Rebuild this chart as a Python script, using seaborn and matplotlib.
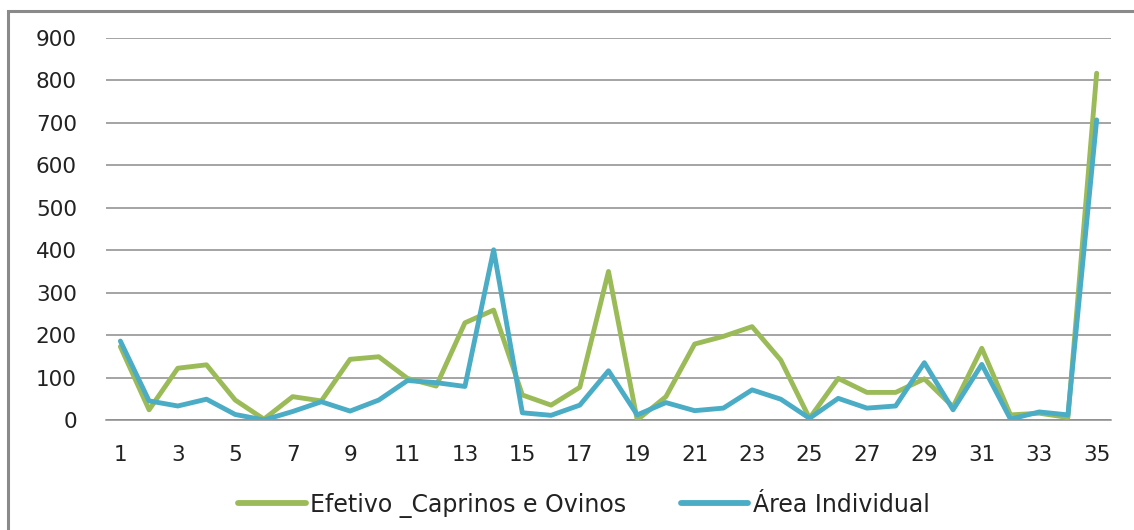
import numpy as np
import pandas as pd
import matplotlib
matplotlib.use("Agg")
import matplotlib.pyplot as plt
import seaborn as sns
from matplotlib.patches import Rectangle

# ---- data ----
x_vals = list(range(1, 36))
efetivo = [173, 24, 122, 130, 47, 2, 55, 45, 143, 149,
           98, 80, 229, 259, 59, 35, 77, 350, 0, 55,
           179, 197, 220, 141, 4, 98, 65, 65, 97, 31,
           169, 12, 16, 6, 817]
area = [186, 45, 33, 49, 13, 0, 20, 43, 21, 47,
        93, 88, 79, 401, 17, 11, 35, 116, 12, 41,
        22, 28, 71, 49, 4, 51, 28, 33, 135, 24,
        131, 2, 19, 12, 707]
series_names = ["Efetivo _Caprinos e Ovinos", "Área Individual"]
y_ticks = [0, 100, 200, 300, 400, 500, 600, 700, 800, 900]
x_tick_labels = [1, 3, 5, 7, 9, 11, 13, 15, 17, 19, 21, 23, 25, 27, 29, 31, 33, 35]

df = pd.DataFrame({
    "x": x_vals * 2,
    "valor": efetivo + area,
    "serie": [series_names[0]] * len(x_vals) + [series_names[1]] * len(x_vals),
})

sns.set_style("white")
plt.rcParams["font.family"] = ["DejaVu Sans"]

fig = plt.figure(figsize=(11.34, 5.30), dpi=100)
ax = fig.add_axes([106 / 1134, 1 - 420 / 530, (1111 - 106) / 1134, (420 - 38) / 530])

palette = {series_names[0]: "#9BBB59", series_names[1]: "#4BACC6"}
sns.lineplot(data=df, x="x", y="valor", hue="serie", palette=palette,
             linewidth=3.5, ax=ax, legend=True, sort=False)

ax.set_xlim(0.5, 35.5)
ax.set_ylim(0, 900)
ax.set_yticks(y_ticks)
ax.set_yticklabels([str(v) for v in y_ticks])
ax.set_xticks(x_tick_labels)
ax.set_xticklabels([str(v) for v in x_tick_labels])
ax.set_xlabel("")
ax.set_ylabel("")

ax.yaxis.grid(True, color="#8c8c8c", linewidth=1.1)
ax.xaxis.grid(False)
for s in ["top", "right", "left"]:
    ax.spines[s].set_visible(False)
ax.spines["bottom"].set_color("#8c8c8c")
ax.spines["bottom"].set_linewidth(1.1)
ax.spines["bottom"].set_zorder(0.5)
ax.set_axisbelow(True)
ax.tick_params(axis="y", length=0, pad=21, labelsize=15.5, labelcolor="#222222")
ax.tick_params(axis="x", length=0, pad=18, labelsize=15.5, labelcolor="#222222")

# legend
handles, labels = ax.get_legend_handles_labels()
ax.legend_.remove()
for h in handles:
    h.set_linewidth(4.2)
fig.legend(handles, labels, loc="center", bbox_to_anchor=(584 / 1134, 1 - 505 / 530),
           ncol=2, frameon=False, handlelength=2.84, handletextpad=0.21, columnspacing=2.29,
           prop={"family": "DejaVu Sans", "size": 17}, labelcolor="#222222")

# outer border
fig.patches.append(Rectangle((8 / 1134, -0.05), 1.2, 1 - 11 / 530 + 0.05,
                             transform=fig.transFigure, fill=False,
                             edgecolor="#8a8a8a", linewidth=2.2, zorder=0))

fig.savefig("out.png", dpi=100)
